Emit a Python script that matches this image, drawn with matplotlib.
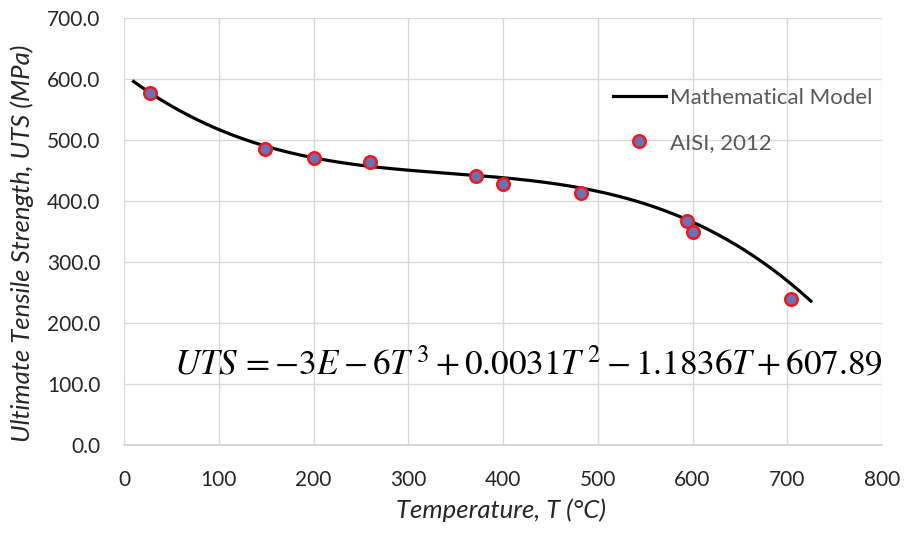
import numpy as np
import matplotlib
matplotlib.use("Agg")
import matplotlib.pyplot as plt

# Measured ultimate tensile strength (AISI, 2012)
temperature_c = [27, 149, 200, 260, 371, 400, 482, 594, 600, 704]
uts_mpa = [577, 486, 471, 464, 442, 428, 414, 367, 350, 240]

# Fitted cubic model: UTS = a T^3 + b T^2 + c T + d
model_coeffs = [-3e-6, 0.0031, -1.1836, 607.89]
model_range = (10, 725)

x_ticks = [0, 100, 200, 300, 400, 500, 600, 700, 800]
y_ticks = [0, 100, 200, 300, 400, 500, 600, 700]

plt.rcParams["font.family"] = ["Lato", "DejaVu Sans"]
plt.rcParams["mathtext.fontset"] = "stix"

fig = plt.figure(figsize=(9.06, 5.33), dpi=100)
ax = fig.add_axes([0.1369, 0.1651, 0.8366, 0.8006])

t_line = np.linspace(model_range[0], model_range[1], 300)
ax.plot(t_line, np.polyval(model_coeffs, t_line), color="black", lw=2.3,
        label="Mathematical Model", zorder=3)
ax.plot(temperature_c, uts_mpa, linestyle="none", marker="o", ms=9,
        mfc="#6f6fb5", mec="#f01818", mew=1.8, label="AISI, 2012", zorder=4)

ax.set_xlim(0, 800)
ax.set_ylim(0, 700)
ax.set_xticks(x_ticks)
ax.set_yticks(y_ticks)
ax.set_xticklabels([str(v) for v in x_ticks])
ax.set_yticklabels([f"{v:.1f}" for v in y_ticks])
ax.tick_params(axis="both", length=0, labelsize=15, colors="#262626")
ax.tick_params(axis="y", pad=17)
ax.tick_params(axis="x", pad=18)
ax.grid(True, color="#d9d9d9", lw=1)
ax.set_axisbelow(True)
for side in ("left", "right", "top"):
    ax.spines[side].set_visible(False)
ax.spines["bottom"].set_color("#d0d0d0")
ax.spines["bottom"].set_linewidth(1.2)

ax.text(53, 115,
        r"$UTS\,=-3E-6T^{\,3}+0.0031T^{\,2}-1.1836T+607.89$",
        fontsize=25.3, va="baseline", ha="left", color="black")

leg = ax.legend(loc="upper left", bbox_to_anchor=(0.645, 0.836), frameon=False,
                fontsize=16, handlelength=2.39, handletextpad=0.18,
                labelspacing=1.1, borderaxespad=0, borderpad=0)
for txt in leg.get_texts():
    txt.set_color("#595959")

fig.text(501 / 906, 1 - 510 / 533, "Temperature, T (°C)", ha="center", va="center",
         fontsize=18.5, style="italic", color="#262626")
fig.text(22 / 906, 1 - 243 / 533, "Ultimate Tensile Strength, UTS (MPa)",
         ha="center", va="center", rotation=90, fontsize=18.5, style="italic",
         color="#262626")

fig.savefig("out.png", dpi=100)
